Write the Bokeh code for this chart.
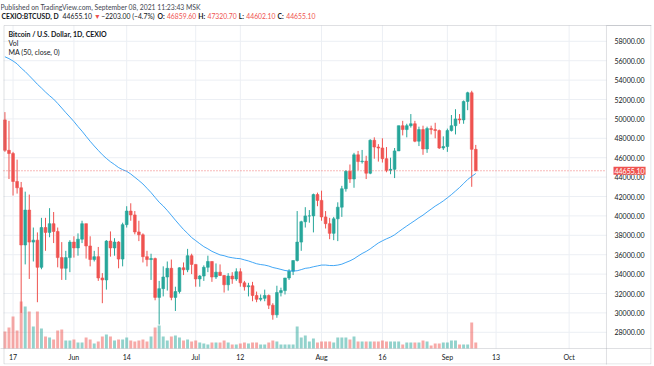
import numpy as np
import pandas as pd
from bokeh.plotting import figure
from bokeh.models import (ColumnDataSource, Range1d, FixedTicker, NumeralTickFormatter,
                          Span, Label, BoxAnnotation)
from bokeh.embed import file_html
from bokeh.resources import INLINE

# ---------------- data ----------------
start_date = "2021-05-15"
end_date = "2021-09-08"

opens = [49900, 46760, 46430, 43550, 42900, 37000, 40600, 37300, 37500, 34700, 38800, 38300, 39200, 38400, 35700, 34600, 35700,
         37300, 36700, 37600, 39200, 36900, 35500, 35800, 33600, 33400, 37400, 36700, 37300, 35550, 39100, 40500, 40100, 38350,
         38050, 35800, 35500, 35600, 31600, 32500, 33700, 34600, 31600, 32200, 34650, 34450, 35900,
         35000, 33500, 33800, 34700, 35300, 33700, 34200, 33860, 32900, 33800, 33500, 34250, 33100, 32700, 32800, 31800,
         31400, 31500, 31800, 30800, 29800, 32100, 32300, 33600, 34300, 35400, 37300, 39400, 40000, 40000, 42200,
         41600, 39900, 39200, 38200, 39700, 40900, 42800, 44600, 43800, 46300, 45600, 45650, 44400, 47800, 47100, 47000,
         45900, 44700, 44800, 46700, 49300, 48900, 49300, 49500, 47700, 48900, 46900, 49000, 48900, 48800, 47000,
         47150, 48800, 49300, 50000, 49900, 51800, 52700, 46860]
highs = [50700, 49800, 46600, 45800, 43500, 42500, 42200, 38800, 38300, 39800, 39800, 40800, 40400, 38800, 37300, 36400, 37500,
         37900, 38200, 39500, 39200, 37900, 36400, 36800, 34100, 37500, 38400, 37700, 37400, 39300, 41000, 41300, 40500, 39500,
         38200, 36400, 36100, 35700, 33300, 34800, 35300, 35500, 32700, 34700, 35200, 36600, 36100,
         35000, 33900, 34900, 35900, 35300, 35100, 35000, 33900, 34100, 34200, 34600, 34600, 33300, 33100, 33200, 32200,
         31900, 32400, 31900, 31000, 32800, 32600, 33600, 34500, 35400, 40500, 39500, 40900, 40600, 42300, 42400,
         42600, 40500, 39800, 39900, 41400, 43100, 44700, 45300, 46500, 46700, 46800, 46200, 47900, 48100, 47400, 48000,
         47100, 46000, 47000, 49300, 49800, 49500, 50500, 49800, 49200, 49300, 49200, 49300, 49600, 48900, 48200,
         49000, 50400, 51000, 50500, 51900, 52800, 52900, 47320]
lows = [46600, 43800, 42100, 42300, 30000, 35000, 33500, 35300, 31100, 34500, 36400, 37800, 37200, 34700, 33400, 33400, 34200,
        35700, 35900, 37200, 35600, 34800, 35300, 33300, 31000, 32400, 35800, 35900, 34600, 34800, 38800, 39500, 38100, 37400,
        35200, 34800, 33400, 31300, 28800, 31700, 32300, 31300, 30200, 32000, 33900, 34200, 34000,
        32700, 32700, 33300, 34200, 33200, 33500, 33800, 32100, 32300, 33000, 33300, 32700, 32300, 31700, 31200, 31100,
        31200, 31200, 30400, 29300, 29500, 31700, 31900, 33400, 33900, 35300, 36400, 38800, 39300, 38300, 41000,
        39500, 38700, 37600, 37500, 37400, 39900, 42500, 43400, 42900, 44700, 45400, 43800, 44300, 45900, 45600, 45500,
        44500, 44300, 43900, 46700, 48300, 48100, 49100, 47600, 47200, 46300, 46500, 48400, 48000, 46900, 46800,
        46600, 48700, 48400, 49500, 49500, 50900, 43000, 44600]
closes = [46760, 46430, 43550, 42900, 37000, 40600, 37300, 37500, 34700, 38800, 38300, 39200, 38400, 35700, 34600, 35700, 37300,
          36700, 37600, 39200, 36900, 35500, 35800, 33600, 33400, 37400, 36700, 37300, 35550, 39100, 40500, 40100, 38350, 38050,
          35800, 35500, 35600, 31600, 32500, 33700, 34600, 31600, 32200, 34650, 34450, 35900, 35000,
          33500, 33800, 34700, 35300, 33700, 34200, 33860, 32900, 33800, 33500, 34250, 33100, 32700, 32800, 31800, 31400,
          31500, 31800, 30800, 29800, 32100, 32300, 33600, 34300, 35400, 37300, 39400, 40000, 40000, 42200, 41600,
          39900, 39200, 38200, 39700, 40900, 42800, 44600, 43800, 46300, 45600, 45650, 44400, 47800, 47100, 47000, 45900,
          44700, 44800, 46700, 49300, 48900, 49300, 49500, 47700, 48900, 46900, 49000, 48900, 48800, 47000, 47150,
          48800, 49300, 50000, 49900, 51800, 52700, 46860, 44655.1]
volumes = [17, 21, 32, 18, 47, 42, 37, 22, 37, 20, 12, 11, 9, 18, 19, 8, 8,
           9, 6, 6, 11, 9, 5, 7, 12, 14, 12, 8, 9, 9, 11, 8, 7, 8, 9, 7, 12, 21, 23, 12, 8, 12, 13, 11, 8, 9, 7,
           8, 6, 5, 4, 6, 6, 6, 8, 6, 4, 4, 5, 6, 5, 6, 6, 4, 4, 6, 8, 7, 4, 4, 4, 4, 22, 11, 13, 7, 10, 6,
           7, 7, 7, 6, 11, 11, 11, 9, 12, 7, 7, 7, 7, 7, 7, 8, 7, 7, 7, 7, 4, 6, 6, 6, 6, 8, 7, 3, 5, 5, 6,
           6, 8, 8, 4, 4, 4, 26, 6]
# closes of the 49 days before the first candle (needed for the 50-day MA)
prior_closes = [55950, 55780, 57600, 58760, 58740, 58730, 58990, 57060, 58210, 59120, 57990, 56000, 57900, 58080,
                59770, 59800, 59990, 63580, 62970, 63180, 61330, 60050, 56250, 55700, 56500, 53800, 51700, 51150,
                50050, 49000, 54000, 55030, 54830, 53550, 57750, 57800, 56570, 57190, 53240, 57500, 56440, 57400,
                58880, 58250, 55860, 56700, 49150, 49700, 49930]

tick_dates = ["2021-05-17", "2021-06-01", "2021-06-14", "2021-07-01", "2021-07-12",
              "2021-08-01", "2021-08-16", "2021-09-01", "2021-09-13", "2021-10-01"]
tick_labels = ["17", "Jun", "14", "Jul", "12", "Aug", "16", "Sep", "13", "Oct"]
price_ticks = list(range(28000, 58001, 2000))
last_price = 44655.10

header_1 = "Published on TradingView.com, September 08, 2021 11:23:43 MSK"
# (text, colour key, bold, x in the reference)
header_2 = [("CEXIO:BTCUSD, D", "txt", True, 1), ("44655.10", "txt", False, 62), ("▼", "red", False, 91),
            ("−2203.00 (−4.7%)", "txt", False, 95), ("O:", "txt", True, 139), ("46859.60", "red", False, 147),
            ("H:", "txt", True, 177), ("47320.70", "red", False, 185), ("L:", "txt", True, 215),
            ("44602.10", "red", False, 220), ("C:", "txt", True, 248), ("44655.10", "red", False, 255)]
legend_lines = ["Bitcoin / U.S. Dollar, 1D, CEXIO", "Vol", "MA (50, close, 0)"]

# ---------------- derived ----------------
origin = pd.Timestamp("2021-05-17")
dates = pd.date_range(start_date, end_date, freq="D")
xs = list((dates - origin).days)
o = np.array(opens, float); c = np.array(closes, float)
up = c >= o
GREEN, RED = "#26a69a", "#ef5350"
colors = [GREEN if u else RED for u in up]
ma = pd.Series(prior_closes + closes).rolling(50).mean().iloc[len(prior_closes):].tolist()

src = ColumnDataSource(dict(x=xs, open=opens, high=highs, low=lows, close=closes,
                            top=np.maximum(o, c), bottom=np.minimum(o, c),
                            color=colors, vol=volumes, ma=ma))

tick_x = [int((pd.Timestamp(d) - origin).days) for d in tick_dates]

# pane (price chart) bounds in data units; the frame also covers header, price scale and time scale
PX0, PX1 = -2.35, 146.2          # visible days of the price pane
PY0, PY1 = 26330, 59630          # visible prices of the price pane
FX0, FX1 = -3.089, 157.29        # frame edges (canvas x 0 .. 651)
FY0, FY1 = 24680.5, 62207.4      # frame edges (canvas y 364 .. 0)

FONT = "Lato"
TXT = "#131722"
BORDER = "#9598a1"
GRID = "#eceff4"

p = figure(width=654, height=366, output_backend="svg", toolbar_location=None,
           x_range=Range1d(FX0, FX1), y_range=Range1d(FY0, FY1),
           y_axis_location="right", min_border_left=0, min_border_right=3,
           min_border_top=0, min_border_bottom=2,
           background_fill_color="white", border_fill_color="white")
p.outline_line_color = None
p.xgrid.visible = False
p.ygrid.visible = False

p.extra_y_ranges = {"vol": Range1d(-16, 348)}

# axes (labels drawn back into the frame, inside the price / time scale columns)
xa = p.xaxis[0]
xa.ticker = FixedTicker(ticks=tick_x)
xa.major_label_overrides = {t: l for t, l in zip(tick_x, tick_labels)}
ya = p.yaxis[0]
ya.ticker = FixedTicker(ticks=price_ticks)
ya.formatter = NumeralTickFormatter(format="0.00")
for ax in (xa, ya):
    ax.major_tick_line_color = None
    ax.minor_tick_line_color = None
    ax.major_tick_out = 0
    ax.major_tick_in = 0
    ax.axis_line_color = None
    ax.major_label_text_font = FONT
    ax.major_label_text_font_size = "7px"
    ax.major_label_text_color = TXT
ya.major_label_standoff = -37
xa.major_label_standoff = -12

# grid lines limited to the price pane
p.segment(x0=tick_x, y0=[PY0] * len(tick_x), x1=tick_x, y1=[PY1] * len(tick_x),
          line_color=GRID, line_width=1)
p.segment(x0=[PX0] * len(price_ticks), y0=price_ticks, x1=[PX1] * len(price_ticks), y1=price_ticks,
          line_color=GRID, line_width=1)

# volume
p.vbar(x="x", width=0.72, top="vol", bottom=0, y_range_name="vol", source=src,
       fill_color="color", fill_alpha=0.5, line_color=None)
# candles
p.segment(x0="x", y0="low", x1="x", y1="high", line_color="color", line_width=1, source=src)
p.vbar(x="x", width=0.68, top="top", bottom="bottom", fill_color="color", line_color="color",
       line_width=0.6, source=src)
# MA
p.line(x="x", y="ma", line_color="#2196f3", line_width=1, line_alpha=0.85, source=src)

# last price line
p.segment(x0=[PX0], y0=[last_price], x1=[PX1], y1=[last_price], line_color=RED, line_dash="1 2",
          line_width=1, line_alpha=0.8)

# separators: price scale column and time scale row
p.add_layout(BoxAnnotation(left=PX1, right=FX1 + 5, top=PY1, bottom=FY0 - 500,
                           fill_alpha=0, line_color=BORDER, line_width=1))
p.add_layout(BoxAnnotation(left=FX0 - 5, right=FX1 + 5, top=PY0, bottom=FY0 - 500,
                           fill_alpha=0, line_color=BORDER, line_width=1))
# outer box (screen units relative to the frame: x from left, y up from the bottom at canvas 364)
p.add_layout(BoxAnnotation(left=3.5, right=650.5, bottom=0.5, top=339,
                           left_units="screen", right_units="screen",
                           bottom_units="screen", top_units="screen",
                           fill_alpha=0, line_color=BORDER, line_width=1))

def lab(x, y, text, color=TXT, bold=False, size="7px", **kw):
    p.add_layout(Label(x=x, y=y, x_units="screen", y_units="screen", text=text,
                       text_font=FONT, text_font_size=size, text_color=color,
                       text_font_style="bold" if bold else "normal",
                       text_baseline="middle", **kw))

# rough text-width estimate (Lato em widths) used only to keep header pieces from overlapping
EM = {".": 0.25, ",": 0.25, ":": 0.27, " ": 0.26, "(": 0.31, ")": 0.31, "%": 0.80, "−": 0.58,
      "▼": 0.78, "I": 0.29, "D": 0.74, "O": 0.77, "C": 0.66, "H": 0.74, "L": 0.50, "U": 0.71,
      "S": 0.53, "B": 0.64, "T": 0.56, "E": 0.56, "X": 0.64}
def est_w(t, size, bold):
    w = sum(EM.get(ch, 0.58 if ch.isdigit() else 0.6) for ch in t) * size
    return w * (1.05 if bold else 1.0)

HSIZE = 6.8
lab(0, 358, header_1, color="#434651", size=f"{HSIZE}px")
cur = 0
for t, ck, b, xref in header_2:
    x = max(xref, cur)
    lab(x, 349, t, color=RED if ck == "red" else TXT, bold=b, size=f"{HSIZE}px")
    cur = x + est_w(t, HSIZE, b) + 2

# legend inside the pane
for i, t in enumerate(legend_lines):
    lab(8, 331 - 9 * i, t, bold=(i == 0))

# price tag on the price scale
p.add_layout(Label(x=613, y=last_price, x_units="screen", y_units="data", text="44655.10",
                   text_font=FONT, text_font_size="7px", text_color="white",
                   text_baseline="middle", background_fill_color=RED, padding=1))

open("out.html", "w").write(file_html(p, INLINE))
